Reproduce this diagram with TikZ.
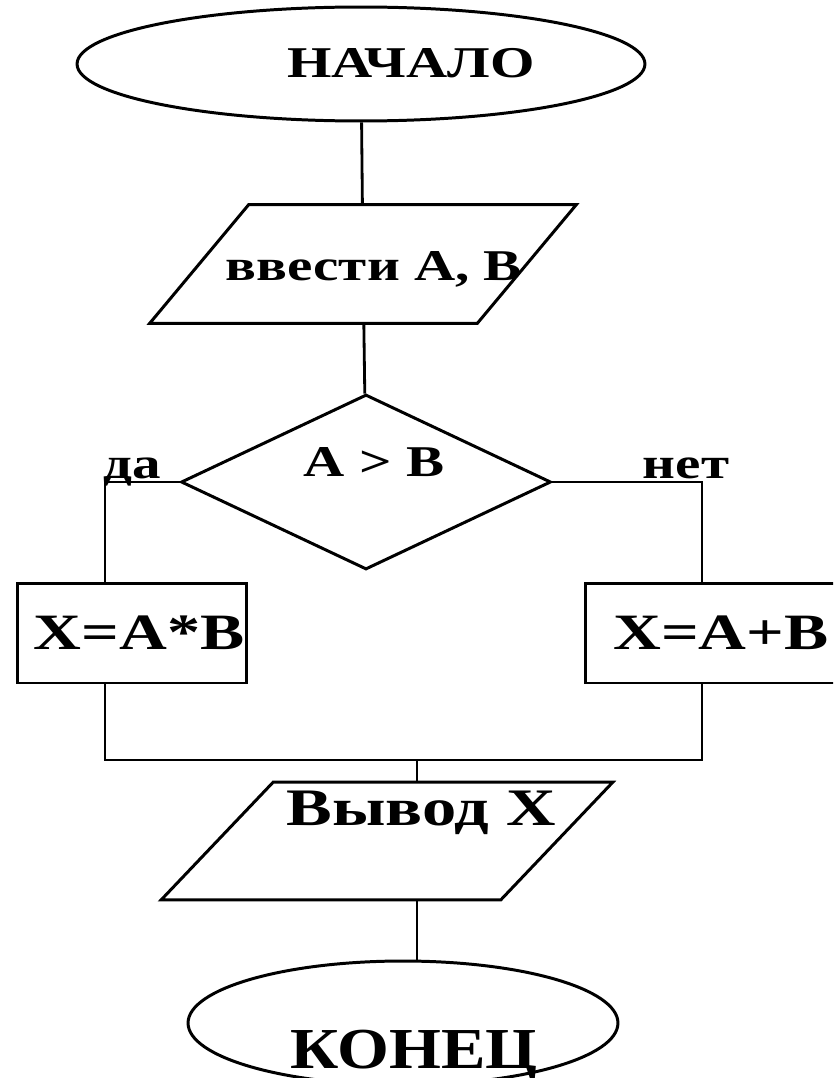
\documentclass[tikz,border=0pt]{standalone}
\usepackage{fontspec}
\setmainfont{Liberation Serif}
\newfontfamily\flowfont[FakeStretch=1.3]{Liberation Serif}
\newfontfamily\endfont[FakeStretch=1.15]{Liberation Serif}
\usetikzlibrary{shapes.geometric}
\tikzset{
  termbox/.style={ellipse,draw,line width=1.7pt,inner sep=0pt},
  iobox/.style={rectangle,inner sep=0pt},
  ioedge/.style={line width=1.7pt,line join=miter},
  condbox/.style={diamond,draw,line width=1.7pt,inner sep=0pt},
  actbox/.style={rectangle,draw,line width=1.7pt,inner sep=0pt,minimum height=2cm,
    font=\fontsize{29}{34}\selectfont\flowfont\bfseries},
  flowtxt/.style={inner sep=0pt,anchor=base,font=\fontsize{25}{30}\selectfont\flowfont\bfseries},
  flowline/.style={line width=1.6pt},
}
\begin{document}
\begin{tikzpicture}[x=0.02cm,y=-0.02cm]
  \useasboundingbox (0,0) rectangle (833,1078);
  \clip (0,0) rectangle (833,1078);

  \node[termbox,minimum width=11.36cm,minimum height=2.28cm] (start) at (361,64) {};
  \node[flowtxt] (starttxt) at (411,78) {НАЧАЛО};

  \node[iobox,minimum width=6.54cm,minimum height=2.36cm] (inp) at (363,264) {};
  \draw[ioedge] ([xshift=0.99cm]inp.north west) -- ([xshift=0.99cm]inp.north east)
    -- ([xshift=-0.99cm]inp.south east) -- ([xshift=-0.99cm]inp.south west) -- cycle;
  \node[flowtxt] (inptxt) at (374,280) {ввести A, B};

  \node[condbox,minimum width=7.4cm,minimum height=3.5cm] (dec) at (366,482) {};
  \node[flowtxt] (dectxt) at (374,476) {A > B};
  \node[flowtxt] (yestxt) at (132,478) {да};
  \node[flowtxt] (notxt) at (686,478) {нет};

  \node[actbox,minimum width=4.6cm,text width=4.5cm,align=right] (lbox) at (132,633) {X=A*B};
  \node[actbox,minimum width=5.44cm] (rbox) at (721,633) {X=A+B};

  \node[iobox,minimum width=6.78cm,minimum height=2.34cm] (outp) at (387,841) {};
  \draw[ioedge] ([xshift=1.12cm]outp.north west) -- ([xshift=1.12cm]outp.north east)
    -- ([xshift=-1.12cm]outp.south east) -- ([xshift=-1.12cm]outp.south west) -- cycle;
  \node[flowtxt,font=\fontsize{30}{35}\selectfont\flowfont\bfseries] (outtxt) at (421,825) {Вывод X};

  \node[termbox,minimum width=8.6cm,minimum height=2.48cm] (fin) at (403,1023) {};
  \node[flowtxt,font=\fontsize{33}{38}\selectfont\endfont\bfseries] (fintxt) at (414,1068) {КОНЕЦ};

  % branch points
  \coordinate (yes) at (105,482);
  \coordinate (no) at (702,482);
  \coordinate (joinL) at (105,760);
  \coordinate (joinR) at (702,760);
  \coordinate (axis) at (417,0);

  \draw[flowline] (start) -- (inp);
  \draw[flowline] (inp) -- (dec);
  \draw[flowline] (dec.west) -- (yes) -- (yes |- lbox.north);
  \draw[flowline] (dec.east) -- (no) -- (no |- rbox.north);
  \draw[flowline] (yes |- lbox.south) -- (joinL) -- (joinR) -- (no |- rbox.south);
  \draw[flowline] (axis |- joinL) -- (axis |- outp.north);
  \draw[flowline] (axis |- outp.south) -- (axis |- fin.north);
\end{tikzpicture}
\end{document}
